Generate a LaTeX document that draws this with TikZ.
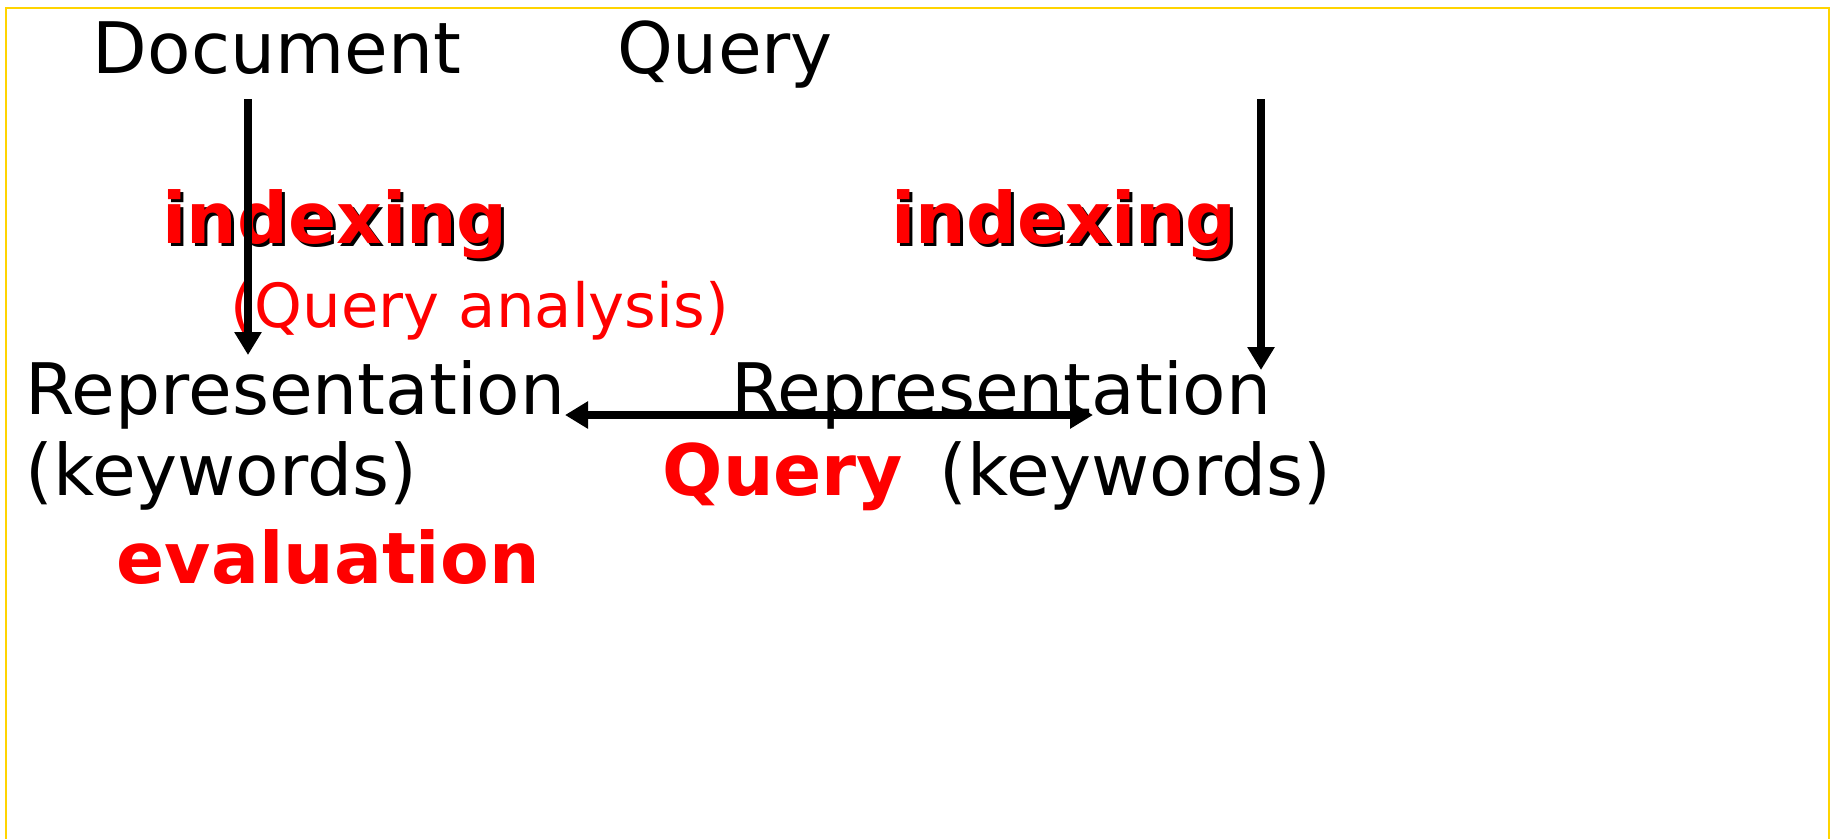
\documentclass[tikz,border=0pt]{standalone}
\usepackage{fontspec}
\setmainfont{DejaVu Sans}
\usetikzlibrary{arrows.meta, positioning}
\definecolor{framegold}{RGB}{255, 212, 0}
\definecolor{keyred}{RGB}{255, 0, 0}

\begin{document}
\begin{tikzpicture}[x=0.01cm, y=-0.01cm, >={Triangle[length=0.23cm, width=0.26cm]},
    word/.style={inner sep=0pt, font=\fontsize{20.2}{24}\selectfont},
    keyword/.style={inner sep=0pt, font=\fontsize{20.2}{24}\selectfont\bfseries, text=keyred},
    shadowword/.style={keyword, text=black},
    note/.style={inner sep=0pt, font=\fontsize{17.3}{21}\selectfont, text=keyred},
    flow/.style={->, line width=0.072cm}]
  \useasboundingbox (0,0) rectangle (1831,838);
  \draw[framegold, line width=0.025cm] (6,860) -- (6,8) -- (1829,8) -- (1829,860);

  % sources
  \node[word, anchor=base] (doc)   at (277,73) {Document};
  \node[word, anchor=base] (query) at (725,73) {Query};

  % indexing steps (with drop shadow)
  \node[shadowword, anchor=base] (ixl-s) at (338,246) {indexing};
  \node[keyword, anchor=base]    (ixl)   at (335,243) {indexing};
  \node[shadowword, anchor=base] (ixr-s) at (1067,246) {indexing};
  \node[keyword, anchor=base]    (ixr)   at (1064,243) {indexing};
  \node[note, anchor=base] (qa) at (480,327) {(Query analysis)};

  % representations
  \node[word, anchor=base west] (repl) at (25,414)  {Representation};
  \node[word, anchor=base west] (kwl)  at (25,495)  {(keywords)};
  \node[keyword, anchor=base west] (eval) at (116,583) {evaluation};
  \node[word, anchor=base west] (repr) at (731,414) {Representation};
  \node[keyword, anchor=base west] (qeval) at (662,495) {Query};
  \node[word, anchor=base west] (kwr)  at (939,495) {(keywords)};

  % arrow ends
  \coordinate (docfoot) at (248,99);
  \coordinate (repltop) at (248,355);
  \coordinate (qfoot)   at (1261,99);
  \coordinate (reprtop) at (1261,370);
  \coordinate (matchl)  at (565,415);
  \coordinate (matchr)  at (1093,415);

  \draw[flow] (docfoot) -- (repltop);
  \draw[flow] (qfoot) -- (reprtop);
  \draw[flow, <->] (matchl) -- (matchr);
\end{tikzpicture}
\end{document}
